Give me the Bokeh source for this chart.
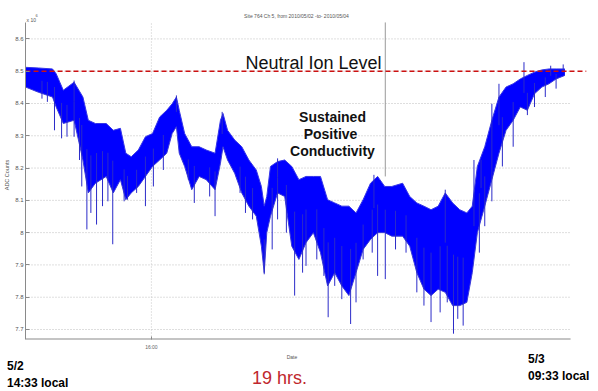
from bokeh.plotting import figure
from bokeh.models import Range1d, FixedTicker, Label, Div
from bokeh.layouts import column
from bokeh.embed import file_html
from bokeh.resources import INLINE
import numpy as np

# ---- data (hours since 5/2 14:33 local, ADC counts x 10^6) ----
hours = [0.00, 0.45, 0.95, 1.08, 1.33, 1.71, 2.02, 2.21, 2.46, 2.84, 3.09, 3.34, 3.53, 3.72,
         3.97, 4.22, 4.47, 4.72, 4.97, 5.16, 5.31, 5.41, 5.60, 5.85, 6.11, 6.36, 6.67, 6.86,
         6.95, 7.11, 7.36, 7.61, 7.86, 8.12, 8.30, 8.40, 8.49, 8.62, 8.87, 9.12, 9.37, 9.62,
         9.87, 10.13, 10.38, 10.63, 10.88, 11.13, 11.38, 11.63, 11.88, 12.14, 12.39, 12.64,
         12.89, 13.27, 13.52, 13.77, 14.02, 14.27, 14.52, 14.77, 15.03, 15.28, 15.53, 15.72,
         15.90, 16.16, 16.41, 16.66, 16.91, 17.16, 17.41, 17.66, 17.91, 18.17, 18.42, 18.67, 18.98]
upper = [8.512, 8.510, 8.507, 8.492, 8.441, 8.466, 8.420, 8.348, 8.338, 8.338, 8.317, 8.323, 8.246, 8.235,
         8.256, 8.297, 8.307, 8.358, 8.379, 8.399, 8.420, 8.379, 8.307, 8.266, 8.266, 8.256, 8.246, 8.348,
         8.369, 8.317, 8.287, 8.266, 8.225, 8.194, 8.143, 8.082, 8.112, 8.205, 8.220, 8.225, 8.205, 8.164,
         8.174, 8.174, 8.174, 8.102, 8.092, 8.082, 8.082, 8.061, 8.102, 8.153, 8.174, 8.143,
         8.143, 8.153, 8.112, 8.092, 8.082, 8.071, 8.082, 8.123, 8.092, 8.071, 8.061, 8.082,
         8.205, 8.266, 8.348, 8.420, 8.451, 8.461, 8.476, 8.487, 8.497, 8.504, 8.507, 8.507, 8.507]
lower = [8.451, 8.435, 8.420, 8.389, 8.338, 8.348, 8.225, 8.123, 8.153, 8.174, 8.123, 8.164, 8.102, 8.123,
         8.143, 8.174, 8.205, 8.225, 8.246, 8.307, 8.328, 8.246, 8.205, 8.133, 8.174, 8.164, 8.133, 8.215,
         8.266, 8.225, 8.184, 8.123, 8.082, 8.051, 7.958, 7.876, 8.000, 8.051, 8.123, 8.112, 7.958, 7.917,
         7.969, 8.000, 7.938, 7.835, 7.876, 7.835, 7.805, 7.876, 7.948, 7.979, 8.000, 8.000,
         7.989, 7.989, 7.958, 7.876, 7.825, 7.805, 7.825, 7.815, 7.774, 7.774, 7.784, 7.876,
         8.000, 8.082, 8.164, 8.246, 8.317, 8.348, 8.389, 8.379, 8.430, 8.451, 8.461, 8.476, 8.487]

spike_hours = [1.02, 1.27, 1.71, 1.98, 2.16, 2.30, 2.50, 3.07, 3.47, 4.22, 4.50, 5.94, 6.67, 7.74,
               8.40, 8.68, 9.47, 9.87, 10.65, 10.88, 11.44, 11.63, 12.39, 12.66, 13.77, 14.27,
               15.06, 15.40, 15.97, 16.41, 17.66, 18.67, 15.78, 17.54, 18.48, 16.66,
               0.58, 0.77, 1.46, 1.90, 2.71, 2.90, 3.59, 3.91, 4.85, 5.73, 6.48, 7.55, 7.99,
               8.87, 9.18, 9.75, 10.25, 10.50, 11.13, 11.88, 12.20, 13.02, 13.39, 14.02, 14.59,
               14.84, 15.21, 16.16, 16.78, 17.16, 17.91, 18.29,
               16.41, 16.03, 18.92, 5.31, 1.71, 6.92, 8.87, 12.26, 14.77]
spike_values = [8.317, 8.292, 8.297, 8.143, 8.010, 8.061, 8.025, 7.964, 8.097, 8.082, 8.143, 8.092, 8.051, 8.061,
                7.871, 7.948, 7.805, 7.897, 7.738, 7.835, 7.717, 7.784, 7.866, 7.856, 7.815, 7.723,
                7.687, 7.712, 7.938, 8.097, 8.364, 8.446, 8.225, 8.528, 8.517, 8.461,
                8.415, 8.405, 8.297, 8.225, 8.082, 8.097, 8.102, 8.123, 8.194, 8.164, 8.112, 8.123, 8.041,
                8.041, 8.000, 7.876, 7.917, 7.866, 7.794, 7.917, 7.938, 7.948, 7.938, 7.774, 7.753,
                7.784, 7.733, 8.020, 8.205, 8.266, 8.389, 8.420,
                8.399, 8.225, 8.521, 8.425, 8.471, 8.374, 8.230, 8.179, 8.133]

neutral_level = 8.5
y_ticks = [7.7, 7.8, 7.9, 8.0, 8.1, 8.2, 8.3, 8.4, 8.5, 8.6]
y_tick_labels = ["7.7", "7.8", "7.9", "8", "8.1", "8.2", "8.3", "8.4", "8.5", "8.6"]
x_ticks = [4.43]
x_tick_labels = ["16:00"]
data_end = 19.18
cursor_hour = 12.66
cursor_bottom = 8.174

x_min, x_max = 0.0, 19.74
y_min, y_axis_top, y_max = 7.669, 8.651, 8.688

FONT = "Liberation Sans"

p = figure(width=598, height=352, output_backend="svg", toolbar_location=None,
           x_range=Range1d(x_min, x_max), y_range=Range1d(y_min, y_max),
           min_border_left=25, min_border_right=12, min_border_top=10, min_border_bottom=11)
p.outline_line_color = None
p.background_fill_color = "white"
p.border_fill_color = "white"
p.xgrid.visible = False
p.ygrid.visible = False

# axes
p.yaxis.bounds = (y_min, y_axis_top)
p.yaxis.ticker = FixedTicker(ticks=y_ticks)
p.yaxis.major_label_overrides = {t: l for t, l in zip(y_ticks, y_tick_labels)}
p.yaxis.major_tick_in = 4
p.yaxis.major_tick_out = 0
p.yaxis.minor_tick_line_color = None
p.yaxis.axis_line_color = "#8a8a8a"
p.yaxis.major_tick_line_color = "#8a8a8a"
p.yaxis.major_label_text_font_size = "6px"
p.yaxis.major_label_text_font = FONT
p.yaxis.major_label_text_color = "#555555"
p.yaxis.major_label_standoff = 2
p.yaxis.axis_label = "ADC Counts"
p.yaxis.axis_label_text_font = FONT
p.yaxis.axis_label_text_font_size = "5.5px"
p.yaxis.axis_label_text_font_style = "normal"
p.yaxis.axis_label_text_color = "#555555"
p.yaxis.axis_label_standoff = 2

p.xaxis.ticker = FixedTicker(ticks=x_ticks)
p.xaxis.major_label_overrides = {t: l for t, l in zip(x_ticks, x_tick_labels)}
p.xaxis.major_tick_in = 3
p.xaxis.major_tick_out = 0
p.xaxis.minor_tick_line_color = None
p.xaxis.axis_line_color = None
p.xaxis.major_tick_line_color = "#8a8a8a"
p.xaxis.major_label_text_font_size = "5px"
p.xaxis.major_label_text_font = FONT
p.xaxis.major_label_text_color = "#666666"
p.xaxis.major_label_standoff = 4

# grid lines (limited to the data extent)
p.segment(x0=[x_min] * len(y_ticks), y0=y_ticks, x1=[data_end] * len(y_ticks), y1=y_ticks,
          line_color="#bdbdbd", line_width=1, line_dash="1 2")
p.segment(x0=x_ticks, y0=[y_min] * len(x_ticks), x1=x_ticks, y1=[y_axis_top] * len(x_ticks),
          line_color="#c8c8c8", line_width=1, line_dash="1 2")
# bottom axis line up to data end
p.segment(x0=[x_min], y0=[y_min], x1=[data_end], y1=[y_min], line_color="#8a8a8a", line_width=2)
# cursor line
p.segment(x0=[cursor_hour], y0=[y_axis_top], x1=[cursor_hour], y1=[cursor_bottom],
          line_color="#9a9a9a", line_width=1)

# data band
hrs = np.array(hours)
up = np.array(upper)
lo = np.array(lower)
p.varea(x=hrs, y1=lo, y2=up, fill_color="#0000ff")
p.line(hrs, up, line_color="#3535e8", line_width=1)
p.line(hrs, lo, line_color="#3a3ad8", line_width=1)
base = np.interp(spike_hours, hrs, (up + lo) / 2)
p.segment(x0=spike_hours, y0=base, x1=spike_hours, y1=spike_values,
          line_color="#2b2bc8", line_width=1)

# neutral ion level
p.segment(x0=[x_min], y0=[neutral_level], x1=[x_max], y1=[neutral_level],
          line_color="#cc1111", line_width=1.5, line_dash="5 3")


def main_lab(text, px, py, size, color="#111111", style="normal", align="left"):
    p.add_layout(Label(x=px - 25, y=341 - py, x_units="screen", y_units="screen", text=text,
                       text_font=FONT, text_font_size=f"{size}px", text_color=color,
                       text_font_style=style, text_align=align, text_baseline="middle"))


main_lab("Neutral Ion Level", 313, 64, 18, align="center")
main_lab("Sustained", 332, 118, 14, style="bold", align="center")
main_lab("Positive", 330, 135, 14, style="bold", align="center")
main_lab("Conductivity", 332, 152, 14, style="bold", align="center")
main_lab("Site 764 Ch 5, from 2010/05/02 -to- 2010/05/04", 296, 17, 5, color="#555555", align="center")
main_lab("x 10", 26, 21, 5, color="#555555")
main_lab("6", 35, 17, 4, color="#555555")

# lower strip with the time annotations (page y 352..391)
STRIP_TOP = 352


def span(text, px, py, size, color="#000000", weight="bold", center=False):
    tx = "-50%" if center else "0"
    return (f'<span style="position:absolute;left:{px}px;top:{py - STRIP_TOP}px;'
            f'transform:translate({tx},-50%);font-family:\'{FONT}\';font-size:{size}px;'
            f'font-weight:{weight};color:{color};line-height:1;white-space:nowrap;">{text}</span>')


strip_html = ('<div style="position:relative;width:598px;height:39px;overflow:hidden;">'
              + span("Date", 292, 357, 5, color="#555555", weight="normal", center=True)
              + span("5/2", 7, 366, 12)
              + span("14:33 local", 7, 383, 12)
              + span("19 hrs.", 252, 378, 18, color="#c0272d", weight="normal")
              + span("5/3", 528, 359, 12)
              + span("09:33 local", 528, 376, 12)
              + '</div>')
strip = Div(text=strip_html, width=598, height=39, margin=0)

layout = column(p, strip, spacing=0)
open("out.html", "w").write(file_html(layout, INLINE))
